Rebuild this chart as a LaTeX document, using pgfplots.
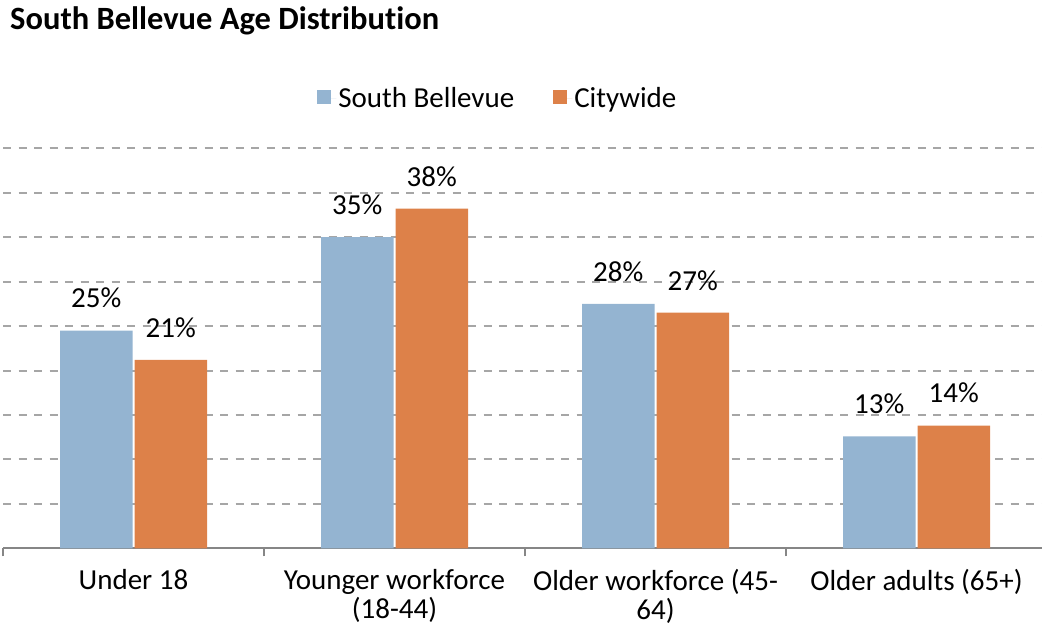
\documentclass[border=0pt]{standalone}
\usepackage{pgfplots}
\pgfplotsset{compat=1.18}
\usepackage{fontspec}
\setmainfont{Carlito}[Ligatures={NoCommon}]
\definecolor{sbblue}{RGB}{148,180,209}
\definecolor{cworange}{RGB}{221,129,73}
\definecolor{gridgray}{RGB}{166,166,166}
\definecolor{axisgray}{RGB}{134,134,134}
\begin{document}
\begin{tikzpicture}
\path[use as bounding box] (0,0) rectangle (1042bp,640bp);
\node[anchor=base west, inner sep=0pt, font=\fontsize{32.5bp}{38bp}\selectfont\bfseries] at (10bp,610.7bp) {South Bellevue Age Distribution};
\begin{axis}[
  at={(3bp,91.7bp)}, anchor=south west,
  scale only axis, width=1044bp, height=400bp,
  ybar=2bp, bar width=72.5bp,
  xmin=-0.5, xmax=3.5, ymin=0, ymax=45,
  xtick={0,1,2,3},
  xticklabels={Under 18,{Younger workforce\\(18-44)},{Older workforce (45-\\64)},Older adults (65+)},
  minor xtick={-0.5,0.5,1.5,2.5,3.5},
  major x tick style={draw=none},
  minor x tick style={axisgray, line width=1.8bp},
  tick align=outside,
  minor tick length=8bp,
  xticklabel style={align=center, anchor=north, yshift=-13bp, font=\fontsize{29bp}{29.5bp}\selectfont},
  axis x line*=bottom,
  x axis line style={axisgray, line width=2bp, -},
  axis y line=left,
  y axis line style={draw=none},
  ytick={5,10,...,45},
  yticklabels={},
  major y tick style={draw=none},
  ymajorgrids,
  grid style={gridgray, line width=2bp, dash pattern=on 8.3bp off 7.2bp},
  nodes near coords,
  point meta=explicit symbolic,
  every node near coord/.append style={anchor=base, yshift=22.7bp, font=\fontsize{29bp}{30bp}\selectfont, text=black},
  legend columns=2,
  legend style={at={(0.474,1.125)}, anchor=center, draw=none, font=\fontsize{29bp}{30bp}\selectfont,
    /tikz/every even column/.append style={column sep=37bp}},
  legend image code/.code={\fill[#1] (0bp,-6bp) rectangle (14bp,8bp); \path (0bp,0bp) -- (19bp,0bp);},
]
\addplot[fill=sbblue, draw=none] coordinates {(0,24.5)[25\%] (1,35.0)[35\%] (2,27.5)[28\%] (3,12.6)[13\%]};
\addplot[fill=cworange, draw=none] coordinates {(0,21.2)[21\%] (1,38.2)[38\%] (2,26.5)[27\%] (3,13.8)[14\%]};
\legend{South Bellevue, Citywide}
\end{axis}
\end{tikzpicture}
\end{document}
